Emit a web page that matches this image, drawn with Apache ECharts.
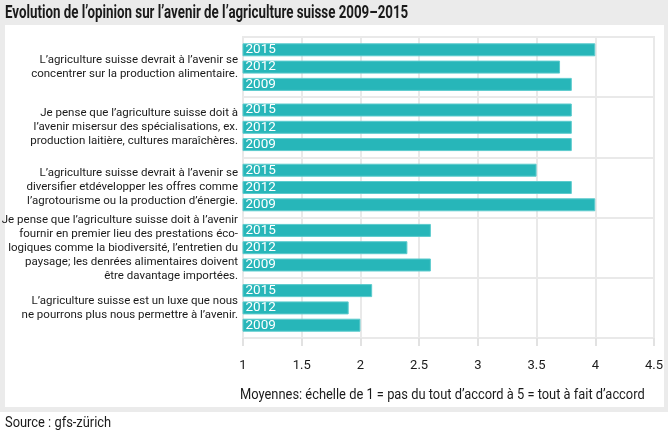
<!DOCTYPE html>
<html><head><meta charset="utf-8">
<script src="https://cdn.jsdelivr.net/npm/echarts@6/dist/echarts.min.js"></script>
<style>html,body{margin:0;padding:0;background:#fff}#c{width:668px;height:432px}</style>
</head><body><div id="c"></div>
<script>
const categories = [
  "L’agriculture suisse devrait à l’avenir se\nconcentrer sur la production alimentaire.",
  "Je pense que l’agriculture suisse doit à\nl’avenir misersur des spécialisations, ex.\nproduction laitière, cultures maraîchères.",
  "L’agriculture suisse devrait à l’avenir se\ndiversifier etdévelopper les offres comme\nl’agrotourisme ou la production d’énergie.",
  "Je pense que l’agriculture suisse doit à l’avenir\nfournir en premier lieu des prestations éco-\nlogiques comme la biodiversité, l’entretien du\npaysage; les denrées alimentaires doivent\nêtre davantage importées.",
  "L’agriculture suisse est un luxe que nous\nne pourrons plus nous permettre à l’avenir."
];
const years = ["2015", "2012", "2009"];
const v2015 = [4.0, 3.8, 3.5, 2.6, 2.1];
const v2012 = [3.7, 3.8, 3.8, 2.4, 1.9];
const v2009 = [3.8, 3.8, 4.0, 2.6, 2.0];
const xTicks = [1, 1.5, 2, 2.5, 3, 3.5, 4, 4.5];
const titleText = 'Evolution de l’opinion sur l’avenir de l’agriculture suisse 2009–2015';
const noteText = 'Moyennes: échelle de 1 = pas du tout d’accord à 5 = tout à fait d’accord';
const sourceText = 'Source : gfs-zürich';

const FONT = 'Roboto, "Liberation Sans", sans-serif';
const GRID = '#e9e9e9';
const BAR = '#27b6b9';
const INK = '#1a1a1a';

const chart = echarts.init(document.getElementById('c'), null, {renderer: 'canvas'});
const seriesValues = [v2015, v2012, v2009];
chart.setOption({
  animation: false,
  backgroundColor: '#ffffff',
  textStyle: {fontFamily: FONT},
  graphic: [
    {type: 'rect', z: -10, silent: true, shape: {x: 0, y: 0, width: 668, height: 412}, style: {fill: '#ebebeb'}},
    {type: 'rect', z: -9, silent: true, shape: {x: 5, y: 25, width: 659, height: 382}, style: {fill: '#ffffff'}},
    {type: 'text', silent: true, x: 5, y: 13, scaleX: 0.74, originX: 0,
     style: {text: titleText, font: 'bold 18px ' + FONT, fill: INK, verticalAlign: 'middle'}},
    {type: 'text', silent: true, x: 240, y: 395, scaleX: 0.92, originX: 0,
     style: {text: noteText, font: '14px ' + FONT, fill: INK, verticalAlign: 'middle'}},
    {type: 'text', silent: true, x: 5, y: 423, scaleX: 0.92, originX: 0,
     style: {text: sourceText, font: '14px ' + FONT, fill: INK, verticalAlign: 'middle'}}
  ],
  grid: {left: 243, right: 14, top: 37, bottom: 94, show: true, borderColor: GRID, borderWidth: 2,
         containLabel: false, outerBoundsMode: 'none'},
  xAxis: {
    type: 'value', min: xTicks[0], max: xTicks[xTicks.length - 1], interval: 0.5,
    axisLine: {show: true, lineStyle: {color: GRID, width: 2}},
    axisTick: {show: true, length: 8, lineStyle: {color: '#e2e2e2', width: 2}},
    splitLine: {show: true, lineStyle: {color: GRID, width: 2}},
    axisLabel: {fontFamily: FONT, fontSize: 13, color: INK, margin: 21, showMinLabel: true, showMaxLabel: true,
                hideOverlap: false}
  },
  yAxis: {
    type: 'category', inverse: true, data: categories,
    axisLine: {show: true, lineStyle: {color: GRID, width: 2}},
    axisTick: {show: false},
    splitLine: {show: true, lineStyle: {color: GRID, width: 2}},
    axisLabel: {fontFamily: FONT, fontSize: 11.5, lineHeight: 14, color: INK, margin: 5, align: 'right'}
  },
  series: years.map((y, i) => ({
    name: y, type: 'bar', data: seriesValues[i],
    barWidth: 13, barGap: '33%',
    itemStyle: {color: BAR, borderColor: '#5ccbcd', borderWidth: 1},
    label: {show: true, position: 'insideLeft', distance: 3, formatter: '{a}', color: '#ffffff', fontFamily: FONT, fontSize: 13.5}
  }))
});
</script></body></html>
